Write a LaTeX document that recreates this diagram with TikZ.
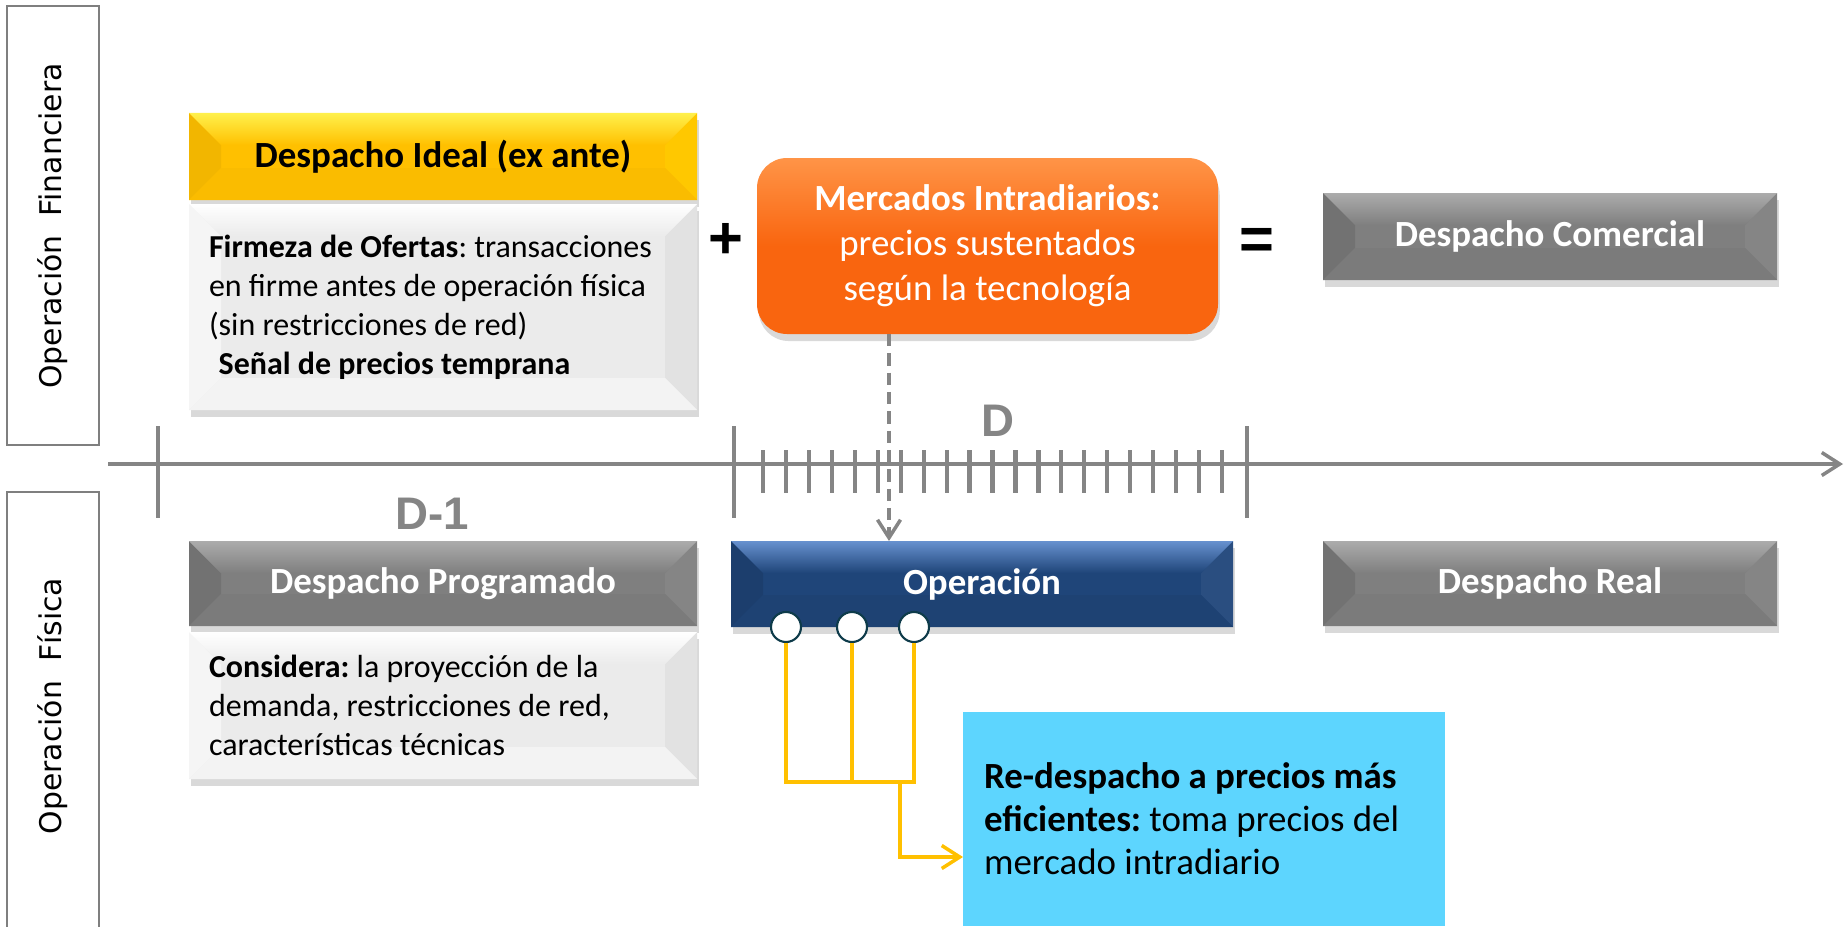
\documentclass[tikz,border=0pt]{standalone}
\usepackage{fontspec}
\setmainfont{Carlito}
\newfontfamily\sidefont{DejaVu Sans}
\newfontfamily\arialfont{Liberation Sans}
\usetikzlibrary{arrows.meta,shadows}
\frenchspacing

\definecolor{boxgray}{HTML}{7F7F7F}
\definecolor{axisgray}{HTML}{858585}
\definecolor{gold}{HTML}{FFC000}
\definecolor{goldlight}{HTML}{FFF04C}
\definecolor{navy}{HTML}{1F4579}
\definecolor{navylight}{HTML}{6791CF}
\definecolor{paper}{HTML}{EBEBEB}
\definecolor{flame}{HTML}{F9650F}
\definecolor{flamelight}{HTML}{FF9447}
\definecolor{sky}{HTML}{5DD5FE}
\definecolor{ring}{HTML}{0E3B4A}

\newcommand{\headfont}{\bfseries\fontsize{21}{25.6}\selectfont}
\newcommand{\bodyfont}{\fontsize{18.2}{22.2}\selectfont}

% bevel faces: light top, base, left, right, bottom
\newcommand{\bevelfaces}[5]{%
  \path (path picture bounding box.north west) coordinate (bnw)
        (path picture bounding box.north east) coordinate (bne)
        (path picture bounding box.south west) coordinate (bsw)
        (path picture bounding box.south east) coordinate (bse);
  \fill[#3] (bnw) -- ++(32,32) -- ([shift={(32,-32)}]bsw) -- (bsw) -- cycle;
  \fill[#4] (bne) -- ++(-32,32) -- ([shift={(-32,-32)}]bse) -- (bse) -- cycle;
  \fill[#5] (bsw) -- ++(32,-32) -- ([shift={(-32,-32)}]bse) -- (bse) -- cycle;
  \shade[top color=#1, bottom color=#2] (bnw) -- ++(32,32) -- ([shift={(-32,32)}]bne) -- (bne) -- cycle;
}

\begin{document}
\begin{tikzpicture}[x=0.02cm, y=-0.02cm,
    wh/.style 2 args={minimum width=#1*0.02cm, minimum height=#2*0.02cm, inner sep=0pt, outer sep=0pt},
    bevel/.style n args={5}{path picture={\bevelfaces{#1}{#2}{#3}{#4}{#5}}},
    shadowed/.style={drop shadow={opacity=.3, shadow xshift=1pt, shadow yshift=-4pt}},
    graybox/.style={fill=boxgray, shadowed, text=white, font=\headfont,
      bevel={boxgray!65!white}{boxgray}{boxgray!90!black}{boxgray!95!white}{boxgray!97!black}},
    goldbox/.style={fill=gold, shadowed, text=black, font=\headfont,
      bevel={goldlight}{gold}{gold!95!black}{gold!88!yellow}{gold!98!black}},
    navybox/.style={fill=navy, shadowed, text=white, font=\headfont,
      bevel={navylight}{navy}{navy!90!black}{navy!95!white}{navy!95!black}},
    paperbox/.style={fill=paper, shadowed, align=flush left, font=\bodyfont,
      bevel={white}{paper}{paper!50!white}{paper!96!black}{paper!60!white}},
    sidebox/.style={draw=boxgray, line width=1.2pt, fill=white},
    sidetext/.style={rotate=90, font=\sidefont\fontsize{17}{20}\selectfont},
    axis/.style={draw=axisgray, line width=2.4pt},
    dayname/.style={text=axisgray, font=\arialfont\bfseries\fontsize{26}{30}\selectfont},
    sign/.style={font=\arialfont\bfseries\fontsize{34}{40}\selectfont},
    hole/.style={circle, fill=white, draw=ring, line width=1.2pt, minimum size=0.6cm, inner sep=0pt},
    link/.style={draw=gold, line width=2.3pt},
    tip/.style={-{Straight Barb[length=0.36cm, width=0.46cm, line width=2pt]}}]

\useasboundingbox (0,0) rectangle (1845,926);

% side labels
\node[sidebox, wh={92}{439}] (fin) at (53,225.5) {};
\node[sidetext] (fint) at (53,226) {Operación\ \ Financiera};
\node[sidebox, wh={92}{460}] (fis) at (53,722) {};
\node[sidetext] (fist) at (53,706) {Operación\ \ Física};

% time axis
\coordinate (ax0) at (108,464);
\coordinate (ax1) at (1843,464);
\draw[axis, tip] (ax0) -- (ax1);
\foreach \x in {158,734,1247}
  \draw[axis] (\x,426) -- (\x,518);
\foreach \i in {0,...,20}
  \draw[axis] ({763+\i*22.95},450) -- ++(0,43);
\node[dayname] (dd) at (998,421) {D};
\node[dayname] (dd1) at (432,514) {D-1};

% financial row
\node[goldbox, wh={508}{87}] (di) at (443,156.5) {Despacho Ideal (ex ante)};
\node[paperbox, wh={508}{206}, text width=9.36cm] (fo) at (443,307)
  {\textbf{Firmeza de Ofertas}: transacciones\\
   en firme antes de operación física\\
   (sin restricciones de red)\\
   \hspace*{0.3em}\textbf{Señal de precios temprana}};
\node[sign] (plus) at (726,241) {+};
\node[wh={461}{176}, rounded corners=0.6cm, top color=flamelight, bottom color=flame,
      middle color=flame, shadowed, text=white, align=center,
      font=\fontsize{21}{25.6}\selectfont] (mi) at (987.5,246)
  {\textbf{Mercados Intradiarios:}\\ precios sustentados\\ según la tecnología};
\node[sign] (eq) at (1257,244) {=};
\node[graybox, wh={454}{87}] (dc) at (1550,236.5) {Despacho Comercial};

% physical row
\node[graybox, wh={508}{85}] (dp) at (443,583.5) {Despacho Programado};
\node[paperbox, wh={508}{147}, text width=9.36cm] (cd) at (443,705.5)
  {\textbf{Considera:} la proyección de la\\
   demanda, restricciones de red,\\
   características técnicas};
\node[navybox, wh={502}{86}] (op) at (982,584) {Operación};
\node[graybox, wh={454}{85}] (dr) at (1550,583.5) {Despacho Real};
\node[fill=sky, wh={482}{214}, text width=8.8cm, align=flush left,
      font=\fontsize{21}{24.5}\selectfont] (rd) at (1204,819)
  {\textbf{Re-despacho a precios más}\\
   \textbf{eficientes:} toma precios del\\
   mercado intradiario};

% intraday link
\draw[axisgray, line width=2.2pt, dash pattern=on 7pt off 4pt, tip] (mi.south -| 889,0) -- (op.north -| 889,0);

% re-dispatch points
\node[hole] (c1) at (786,627) {};
\node[hole] (c2) at (852,627) {};
\node[hole] (c3) at (914,627) {};
\coordinate (j) at (900,782);
\draw[link] (c1.south) -- (c1.south |- j) -- (c3.south |- j) -- (c3.south);
\draw[link] (c2.south) -- (c2.south |- j);
\draw[link, tip] (j) |- (rd.west |- 0,857);
\end{tikzpicture}
\end{document}
